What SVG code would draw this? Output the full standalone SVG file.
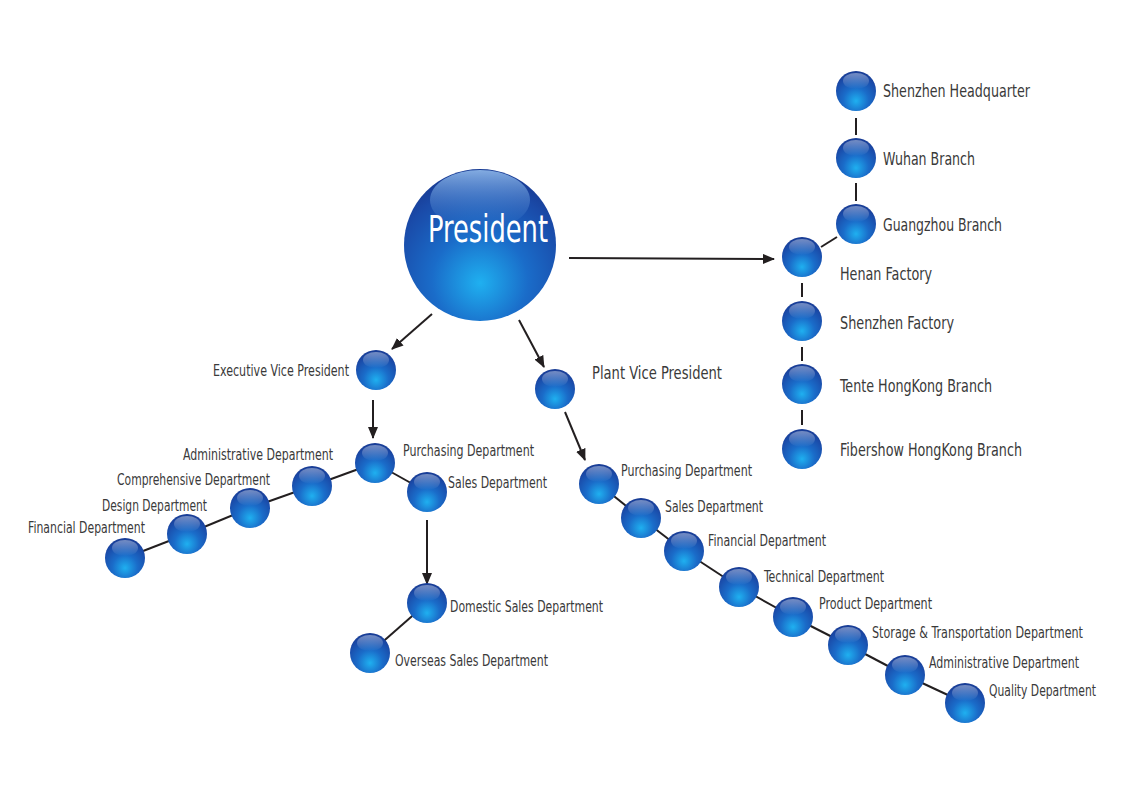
<svg xmlns="http://www.w3.org/2000/svg" xmlns:xlink="http://www.w3.org/1999/xlink" width="1124" height="795" viewBox="0 0 1124 795">
<style>
text{font-family:"DejaVu Sans Condensed","Liberation Sans Narrow","Liberation Sans",sans-serif;fill:#3a3a3a;font-size:16.5px}
.big{font-size:18px}
.tall{font-size:12.5px}
.link{stroke:#231f20;stroke-width:2;fill:none}
.arrow{stroke:#231f20;stroke-width:2;fill:none;marker-end:url(#ah)}
</style>
<defs>
<radialGradient id="bg" cx="0.5" cy="0.72" r="0.7" fx="0.5" fy="0.75">
<stop offset="0" stop-color="#1fb0f0"/>
<stop offset="0.45" stop-color="#1a6cc9"/>
<stop offset="0.85" stop-color="#1a4aa8"/>
<stop offset="1" stop-color="#183c95"/>
</radialGradient>
<linearGradient id="gl" x1="0" y1="0" x2="0" y2="1">
<stop offset="0" stop-color="#ffffff" stop-opacity="0.4"/>
<stop offset="1" stop-color="#ffffff" stop-opacity="0"/>
</linearGradient>
<linearGradient id="glp" x1="0" y1="0" x2="0" y2="1">
<stop offset="0" stop-color="#8fb8ea" stop-opacity="0.9"/>
<stop offset="1" stop-color="#3f7fd0" stop-opacity="0"/>
</linearGradient>
<g id="ball">
<circle r="20" fill="url(#bg)"/>
<ellipse cx="0" cy="-10" rx="13" ry="8" fill="url(#gl)"/>
</g>
<marker id="ah" viewBox="0 0 12 10" refX="11" refY="5" markerWidth="12" markerHeight="10" markerUnits="userSpaceOnUse" orient="auto">
<path d="M0,0 L12,5 L0,10 Z" fill="#231f20"/>
</marker>
</defs>
<rect width="1124" height="795" fill="#ffffff"/>
<g id="connectors">
<line class="arrow" x1="432" y1="314" x2="392" y2="349"/>
<line class="arrow" x1="519" y1="320" x2="544" y2="367"/>
<line class="arrow" x1="569" y1="258" x2="774" y2="259"/>
<line class="arrow" x1="373" y1="400" x2="373" y2="438"/>
<line class="arrow" x1="565" y1="412" x2="585" y2="460"/>
<line class="arrow" x1="427" y1="520" x2="427" y2="584"/>
<line class="link" x1="856" y1="118" x2="856" y2="135"/>
<line class="link" x1="856" y1="183" x2="856" y2="201"/>
<line class="link" x1="837" y1="237" x2="821" y2="247"/>
<line class="link" x1="802" y1="283" x2="802" y2="297"/>
<line class="link" x1="802" y1="347" x2="802" y2="361"/>
<line class="link" x1="802" y1="410" x2="802" y2="425"/>
<line class="link" x1="375" y1="463" x2="427" y2="492"/>
<line class="link" x1="375" y1="463" x2="312" y2="486"/>
<line class="link" x1="312" y1="486" x2="250" y2="508"/>
<line class="link" x1="250" y1="508" x2="187" y2="534"/>
<line class="link" x1="187" y1="534" x2="125" y2="558"/>
<line class="link" x1="427" y1="603" x2="370" y2="653"/>
<line class="link" x1="599" y1="484" x2="641" y2="518"/>
<line class="link" x1="641" y1="518" x2="684" y2="551"/>
<line class="link" x1="684" y1="551" x2="739" y2="587"/>
<line class="link" x1="739" y1="587" x2="793" y2="617"/>
<line class="link" x1="793" y1="617" x2="848" y2="645"/>
<line class="link" x1="848" y1="645" x2="905" y2="675"/>
<line class="link" x1="905" y1="675" x2="965" y2="703"/>
</g>
<g id="president">
<circle cx="480" cy="245" r="76" fill="url(#bg)"/>
<ellipse cx="480" cy="200" rx="50" ry="30" fill="url(#glp)"/>
<text x="428" y="242" style="font-size:37px;fill:#ffffff" textLength="120" lengthAdjust="spacingAndGlyphs">President</text>
</g>
<g id="evp"><use href="#ball" x="376" y="370"/><text x="213" y="376" textLength="136" lengthAdjust="spacingAndGlyphs">Executive Vice President</text></g>
<g id="pvp"><use href="#ball" x="555" y="389"/><text x="592" y="379" class="big" textLength="130" lengthAdjust="spacingAndGlyphs">Plant Vice President</text></g>
<g id="l-purchasing"><use href="#ball" x="375" y="463"/><text x="403" y="456" textLength="131" lengthAdjust="spacingAndGlyphs">Purchasing Department</text></g>
<g id="l-sales"><use href="#ball" x="427" y="492"/><text x="448" y="488" textLength="99" lengthAdjust="spacingAndGlyphs">Sales Department</text></g>
<g id="l-admin"><use href="#ball" x="312" y="486"/><text x="183" y="460" textLength="150" lengthAdjust="spacingAndGlyphs">Administrative Department</text></g>
<g id="l-comp"><use href="#ball" x="250" y="508"/><text x="117" y="485" textLength="153" lengthAdjust="spacingAndGlyphs">Comprehensive Department</text></g>
<g id="l-design"><use href="#ball" x="187" y="534"/><text x="102" y="511" textLength="105" lengthAdjust="spacingAndGlyphs">Design Department</text></g>
<g id="l-fin"><use href="#ball" x="125" y="558"/><text x="28" y="533" textLength="117" lengthAdjust="spacingAndGlyphs">Financial Department</text></g>
<g id="domestic"><use href="#ball" x="427" y="603"/><text x="450" y="612" textLength="153" lengthAdjust="spacingAndGlyphs">Domestic Sales Department</text></g>
<g id="overseas"><use href="#ball" x="370" y="653"/><text x="395" y="666" textLength="153" lengthAdjust="spacingAndGlyphs">Overseas Sales Department</text></g>
<g id="r-purchasing"><use href="#ball" x="599" y="484"/><text x="621" y="476" textLength="131" lengthAdjust="spacingAndGlyphs">Purchasing Department</text></g>
<g id="r-sales"><use href="#ball" x="641" y="518"/><text x="665" y="512" textLength="98" lengthAdjust="spacingAndGlyphs">Sales Department</text></g>
<g id="r-fin"><use href="#ball" x="684" y="551"/><text x="708" y="546" textLength="118" lengthAdjust="spacingAndGlyphs">Financial Department</text></g>
<g id="r-tech"><use href="#ball" x="739" y="587"/><text x="764" y="582" textLength="120" lengthAdjust="spacingAndGlyphs">Technical Department</text></g>
<g id="r-product"><use href="#ball" x="793" y="617"/><text x="819" y="609" textLength="113" lengthAdjust="spacingAndGlyphs">Product Department</text></g>
<g id="r-storage"><use href="#ball" x="848" y="645"/><text class="tall" transform="translate(872,638) scale(1,1.32)" x="0" y="0" textLength="211" lengthAdjust="spacingAndGlyphs">Storage &amp; Transportation Department</text></g>
<g id="r-admin"><use href="#ball" x="905" y="675"/><text class="tall" transform="translate(929,668) scale(1,1.32)" x="0" y="0" textLength="150" lengthAdjust="spacingAndGlyphs">Administrative Department</text></g>
<g id="r-quality"><use href="#ball" x="965" y="703"/><text class="tall" transform="translate(989,696) scale(1,1.32)" x="0" y="0" textLength="107" lengthAdjust="spacingAndGlyphs">Quality Department</text></g>
<g id="sz-hq"><use href="#ball" x="856" y="91"/><text x="883" y="97" class="big" textLength="147" lengthAdjust="spacingAndGlyphs">Shenzhen Headquarter</text></g>
<g id="wuhan"><use href="#ball" x="856" y="158"/><text x="883" y="165" class="big" textLength="92" lengthAdjust="spacingAndGlyphs">Wuhan Branch</text></g>
<g id="guangzhou"><use href="#ball" x="856" y="224"/><text x="883" y="231" class="big" textLength="119" lengthAdjust="spacingAndGlyphs">Guangzhou Branch</text></g>
<g id="henan"><use href="#ball" x="802" y="257"/><text x="840" y="280" class="big" textLength="92" lengthAdjust="spacingAndGlyphs">Henan Factory</text></g>
<g id="sz-factory"><use href="#ball" x="802" y="321"/><text x="840" y="329" class="big" textLength="114" lengthAdjust="spacingAndGlyphs">Shenzhen Factory</text></g>
<g id="tente"><use href="#ball" x="802" y="384"/><text x="840" y="392" class="big" textLength="152" lengthAdjust="spacingAndGlyphs">Tente HongKong Branch</text></g>
<g id="fibershow"><use href="#ball" x="802" y="449"/><text x="840" y="456" class="big" textLength="182" lengthAdjust="spacingAndGlyphs">Fibershow HongKong Branch</text></g>
</svg>
